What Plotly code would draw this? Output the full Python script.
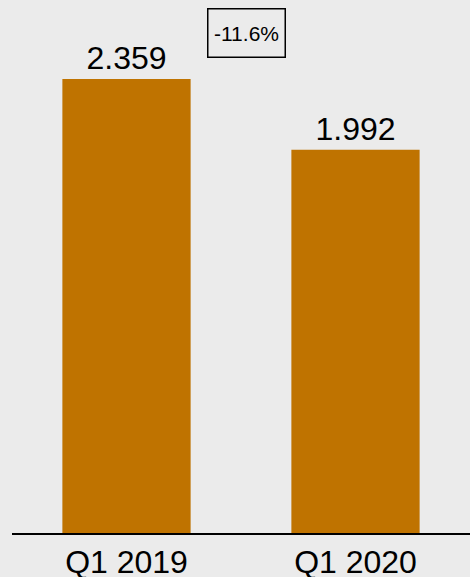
import plotly.graph_objects as go

categories = ["Q1 2019", "Q1 2020"]
values = [2.359, 1.992]
value_labels = ["2.359", "1.992"]
change_label = "-11.6%"

bar_color = "#bf7300"
bg = "#ebebeb"

fig = go.Figure(go.Bar(
    x=categories, y=values,
    text=value_labels, textposition="outside",
    textfont=dict(family="Liberation Sans, Arial", size=32, color="#000000"),
    marker=dict(color=bar_color, line=dict(width=0)),
    cliponaxis=False,
))

fig.update_layout(
    width=470, height=577,
    margin=dict(l=12, r=0, t=0, b=44, autoexpand=False),
    paper_bgcolor=bg, plot_bgcolor=bg,
    bargap=0.44,
    showlegend=False,
    font=dict(family="Liberation Sans, Arial", color="#000000"),
    xaxis=dict(showgrid=False, showline=True, linecolor="#000000", linewidth=1.5,
               automargin=False,
               ticks="", ticklabelstandoff=0, tickfont=dict(size=32, color="#000000")),
    yaxis=dict(visible=False, range=[0, 2.77], automargin=False),
    annotations=[dict(
        x=0.511, y=0.939, xref="paper", yref="paper",
        xanchor="center", yanchor="middle",
        text=change_label, showarrow=False,
        font=dict(family="Liberation Sans, Arial", size=21, color="#000000"),
        width=70, height=41,
        bordercolor="#000000", borderwidth=1.5, borderpad=3,
        bgcolor="rgba(0,0,0,0)",
    )],
)

fig.write_html("out.html", config={"displayModeBar": False},
               post_script="document.body.style.margin='0';document.body.style.overflow='hidden';")
